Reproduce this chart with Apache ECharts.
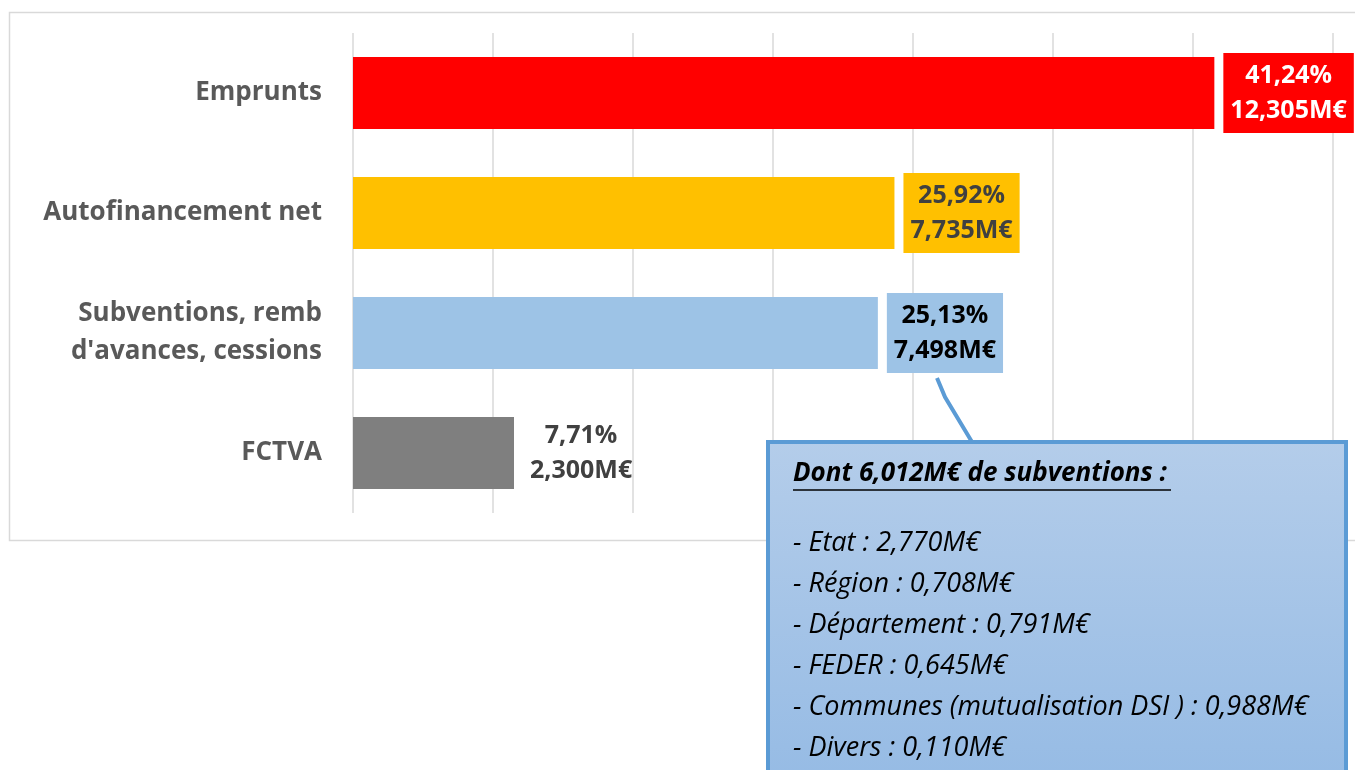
<!DOCTYPE html>
<html><head><meta charset="utf-8">
<script src="https://cdn.jsdelivr.net/npm/echarts@6/dist/echarts.min.js"></script>
<style>html,body{margin:0;padding:0;background:#fff}#c{width:1355px;height:770px}</style>
</head><body><div id="c"></div>
<script>
const categories = ['Emprunts', 'Autofinancement net', "Subventions, remb\nd'avances, cessions", 'FCTVA'];
const values = [12.305, 7.735, 7.498, 2.300];
const percents = [41.24, 25.92, 25.13, 7.71];
const barColors = ['#FF0000', '#FFC000', '#9DC3E6', '#7F7F7F'];
const labelBg = ['#FF0000', '#FFC000', '#9DC3E6', 'transparent'];
const labelColors = ['#FFFFFF', '#404040', '#000000', '#404040'];
const xTicks = [0, 2, 4, 6, 8, 10, 12, 14];
const calloutTitle = 'Dont 6,012M€ de subventions :';
const calloutLines = ['- Etat : 2,770M€', '- Région : 0,708M€', '- Département : 0,791M€', '- FEDER : 0,645M€', '- Communes (mutualisation DSI ) : 0,988M€', '- Divers : 0,110M€'];

const FONT = '"Open Sans", Lato, sans-serif';
const fmt = (v, d) => v.toFixed(d).replace('.', ',');

const chart = echarts.init(document.getElementById('c'), null, {renderer: 'canvas'});

const graphics = [
  {type: 'rect', shape: {x: 9.5, y: 12.5, width: 1360, height: 528}, style: {fill: 'none', stroke: '#D9D9D9', lineWidth: 1.5}, z: 0, silent: true},
  {type: 'polyline', shape: {points: [[937, 378], [945, 397], [972, 442]]}, style: {stroke: '#5B9BD5', lineWidth: 4, fill: 'none'}, z: 10},
  {type: 'rect', shape: {x: 768, y: 442, width: 578, height: 360}, style: {
    fill: new echarts.graphic.LinearGradient(0, 0, 0, 1, [{offset: 0, color: '#B4CDEA'}, {offset: 1, color: '#94BAE4'}]),
    stroke: '#5B9BD5', lineWidth: 4}, z: 10},
  {type: 'text', style: {x: 793, y: 474, verticalAlign: 'middle', text: calloutTitle, font: 'italic bold 26px ' + FONT, fill: '#000'}, z: 11},
  {type: 'line', shape: {x1: 793, y1: 490, x2: 1171, y2: 490}, style: {stroke: '#000', lineWidth: 1.5}, z: 11}
];
calloutLines.forEach((t, i) => {
  graphics.push({type: 'text', style: {x: 793, y: 543 + i * 41, verticalAlign: 'middle', text: t, font: 'italic 27px ' + FONT, fill: '#000'}, z: 11});
});

chart.setOption({
  animation: false,
  grid: {left: 353, right: 22, top: 33, height: 480, containLabel: false},
  xAxis: {
    type: 'value', min: xTicks[0], max: xTicks[xTicks.length - 1], interval: 2,
    axisLabel: {show: false}, axisLine: {show: false}, axisTick: {show: false},
    splitLine: {show: true, lineStyle: {color: '#D9D9D9', width: 1.5}}
  },
  yAxis: {
    type: 'category', data: categories, inverse: true,
    axisLine: {show: false}, axisTick: {show: false},
    axisLabel: {margin: 31, fontFamily: FONT, fontWeight: 'bold', fontSize: 26, color: '#595959', lineHeight: 38, align: 'right'}
  },
  series: [{
    type: 'bar', barCategoryGap: '40%',
    data: values.map((v, i) => ({
      value: v,
      itemStyle: {color: barColors[i]},
      label: {
        show: true, position: 'right', distance: 9,
        backgroundColor: labelBg[i], padding: [5, 7, 5, 7],
        formatter: () => '{a|' + fmt(percents[i], 2) + '%}\n{a|' + fmt(values[i], 3) + 'M€}',
        rich: {a: {fontFamily: FONT, fontWeight: 'bold', fontSize: 25, color: labelColors[i], lineHeight: 35, align: 'center'}}
      }
    })),
    z: 5
  }],
  graphic: graphics
});
</script></body></html>
